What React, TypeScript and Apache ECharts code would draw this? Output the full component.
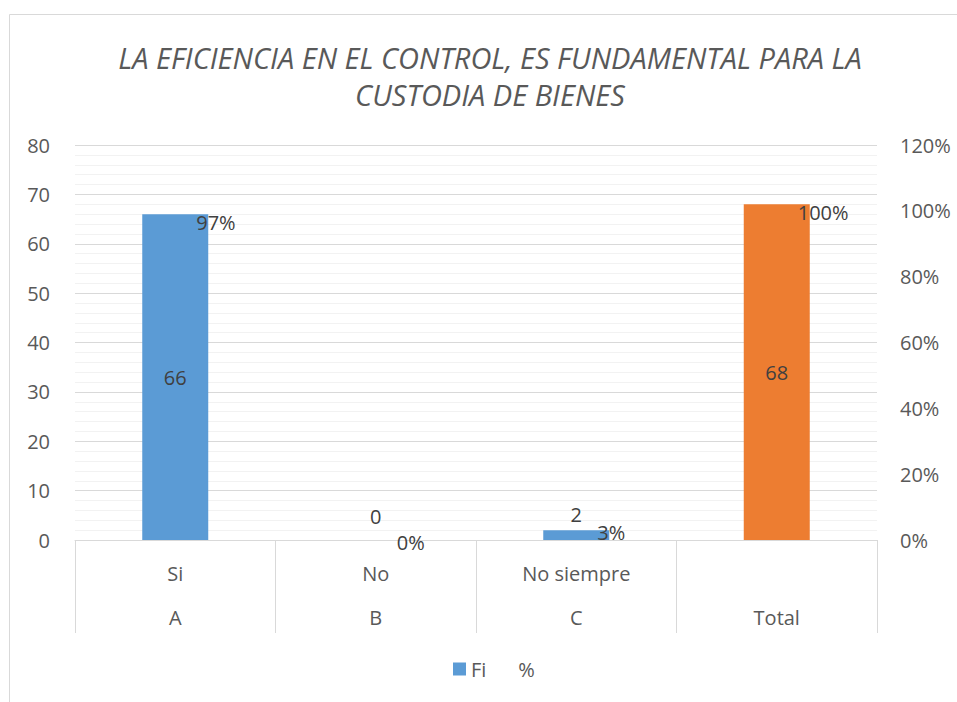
import React, { useEffect, useRef } from "react";
import * as echarts from "echarts";

const titleLines = ["LA EFICIENCIA EN EL CONTROL, ES FUNDAMENTAL PARA LA", "CUSTODIA DE BIENES"];
const categoriesTop = ["Si", "No", "No siempre", ""];
const categoriesBottom = ["A", "B", "C", "Total"];
const fiValues = [66, 0, 2, 68];
const pctValues = [0.97, 0, 0.03, 1.0];
const leftTicks = { min: 0, max: 80, interval: 10 };
const rightTicks = { min: 0, max: 1.2, interval: 0.2 };

const FONT = "'Open Sans', 'Noto Sans', sans-serif";
const AXIS_COLOR = "#595959";
const LABEL_COLOR = "#404040";
const BLUE = "#5B9BD5";
const ORANGE = "#ED7D31";
const FS = 20;

export default function App() {
  const ref = useRef<HTMLDivElement>(null);

  useEffect(() => {
    if (!ref.current) return;
    const chart = echarts.init(ref.current, undefined, { renderer: "svg" });
    const categories = categoriesBottom.map((b, i) => `${categoriesTop[i]}|${b}`);

    const fiData = fiValues.map((v, i) => {
      const isTotal = categoriesBottom[i] === "Total";
      const big = v > 10;
      return {
        value: v,
        itemStyle: isTotal ? { color: ORANGE } : undefined,
        label: big
          ? { position: "inside" }
          : { position: "top", distance: v === 0 ? 14 : 6 },
      };
    });

    chart.setOption({
      animation: false,
      textStyle: { fontFamily: FONT },
      graphic: [
        {
          type: "rect",
          shape: { x: 9.5, y: 14.5, width: 1000, height: 1000 },
          style: { fill: "none", stroke: "#D9D9D9", lineWidth: 1 },
          silent: true,
        },
        {
          type: "text",
          x: 490,
          y: 76,
          style: {
            text: titleLines.join("\n"),
            fontFamily: FONT,
            fontSize: 29,
            fontStyle: "italic",
            fill: AXIS_COLOR,
            align: "center",
            verticalAlign: "middle",
            lineHeight: 37,
          },
        },
      ],
      legend: {
        left: 448,
        top: 654,
        itemWidth: 13,
        itemHeight: 13,
        itemGap: 14,
        textStyle: { fontFamily: FONT, fontSize: FS, color: AXIS_COLOR },
        data: [
          { name: "Fi", icon: "rect", itemStyle: { color: BLUE } },
          { name: "%", icon: "rect", itemStyle: { color: "transparent", borderWidth: 0 } },
        ],
      },
      grid: { left: 75, right: 80, top: 145, bottom: 162, containLabel: false, outerBoundsMode: "none" },
      xAxis: {
        type: "category",
        data: categories,
        axisLine: { show: true, lineStyle: { color: "#D9D9D9", width: 1 } },
        axisTick: { show: true, length: 93, lineStyle: { color: "#D9D9D9", width: 1 } },
        axisLabel: {
          margin: 11,
          interval: 0,
          formatter: (val: string) => {
            const [a, b] = val.split("|");
            return `{a|${a || " "}}\n{b|${b}}`;
          },
          rich: {
            a: { fontFamily: FONT, fontSize: FS, color: AXIS_COLOR, lineHeight: 44 },
            b: { fontFamily: FONT, fontSize: FS, color: AXIS_COLOR, lineHeight: 44 },
          },
        },
      },
      yAxis: [
        {
          type: "value",
          min: leftTicks.min,
          max: leftTicks.max,
          interval: leftTicks.interval,
          axisLine: { show: false },
          axisTick: { show: false },
          axisLabel: { margin: 25, fontFamily: FONT, fontSize: FS, color: AXIS_COLOR },
          splitLine: { show: true, lineStyle: { color: "#D9D9D9", width: 1 } },
          minorTick: { show: false, splitNumber: 5 },
          minorSplitLine: { show: true, lineStyle: { color: "#F2F2F2", width: 1 } },
        },
        {
          type: "value",
          min: rightTicks.min,
          max: rightTicks.max,
          interval: rightTicks.interval,
          axisLine: { show: false },
          axisTick: { show: false },
          splitLine: { show: false },
          axisLabel: {
            margin: 23,
            fontFamily: FONT,
            fontSize: FS,
            color: AXIS_COLOR,
            formatter: (v: number) => `${Math.round(v * 100)}%`,
          },
        },
      ],
      series: [
        {
          name: "Fi",
          type: "bar",
          yAxisIndex: 0,
          barWidth: 66,
          itemStyle: { color: BLUE },
          label: {
            show: true,
            fontFamily: FONT,
            fontSize: FS,
            color: LABEL_COLOR,
          },
          emphasis: { disabled: true },
          data: fiData,
        },
        {
          name: "%",
          type: "line",
          yAxisIndex: 1,
          data: pctValues,
          symbol: "circle",
          symbolSize: 2,
          itemStyle: { color: "transparent" },
          lineStyle: { width: 0, color: "transparent" },
          emphasis: { disabled: true },
          label: {
            show: true,
            position: "right",
            distance: 20,
            offset: [0, 2],
            fontFamily: FONT,
            fontSize: FS,
            color: LABEL_COLOR,
            formatter: (p: any) => `${Math.round(p.value * 100)}%`,
          },
        },
      ],
    });
    return () => chart.dispose();
  }, []);

  return (
    <div
      ref={ref}
      style={{ position: "fixed", left: 0, top: 0, width: 957, height: 702, background: "#fff" }}
    />
  );
}
